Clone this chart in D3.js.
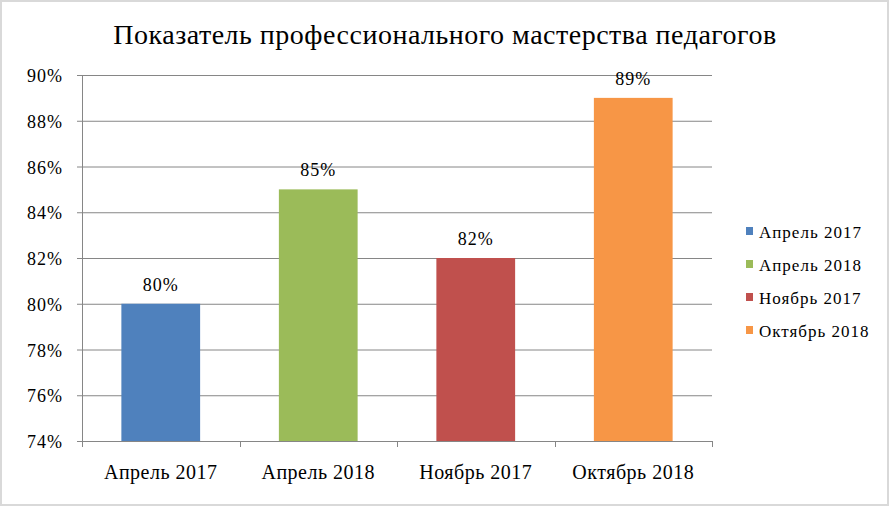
<!DOCTYPE html>
<html><head><meta charset="utf-8">
<script src="https://cdn.jsdelivr.net/npm/d3@7"></script>
<style>body{margin:0;background:#fff}svg{display:block}svg text{font-family:"Liberation Serif","Times New Roman",serif !important;fill:#000}</style>
</head><body><svg id="c" width="890" height="507"></svg>
<script>
const categories = ["Апрель 2017","Апрель 2018","Ноябрь 2017","Октябрь 2018"];
const values = [80, 85, 82, 89];
const colors = ["#4f81bd","#9bbb59","#c0504d","#f79646"];
const yTicks = [74,76,78,80,82,84,86,88,90];
const title = "Показатель профессионального мастерства педагогов";

const svg = d3.select("#c");
svg.append("rect").attr("x",1).attr("y",1).attr("width",887).attr("height",504)
  .attr("fill","#fff").attr("stroke","#d9d9d9").attr("stroke-width",2);

const L=82,R=712,T=75,B=441;
const x = d3.scaleBand().domain(categories).range([L,R]).paddingInner(0.5).paddingOuter(0.25);
const y = d3.scaleLinear().domain([74,90]).range([B,T]);
const step = x.step();

svg.append("text").attr("x",445).attr("y",44).attr("text-anchor","middle")
  .style("font-size","28px").style("letter-spacing","0.5px").text(title);

// gridlines
svg.append("g").selectAll("line").data(yTicks).join("line")
  .attr("x1",L-5).attr("x2",R).attr("y1",d=>y(d)+0.5).attr("y2",d=>y(d)+0.5)
  .attr("stroke","#868686").attr("stroke-width",1);

// y axis line
svg.append("line").attr("x1",L+0.5).attr("x2",L+0.5).attr("y1",T).attr("y2",B+1).attr("stroke","#868686");

svg.append("g").selectAll("text").data(yTicks).join("text")
  .attr("x",L-19).attr("y",d=>y(d)+7).attr("text-anchor","end")
  .style("font-size","18px").style("letter-spacing","1px").text(d=>d+"%");

// category boundary ticks
const bounds = d3.range(categories.length+1).map(i=>L+i*step);
svg.append("g").selectAll("line").data(bounds).join("line")
  .attr("x1",d=>Math.round(d)+0.5).attr("x2",d=>Math.round(d)+0.5).attr("y1",B).attr("y2",B+6)
  .attr("stroke","#868686");

svg.append("g").selectAll("rect").data(values).join("rect")
  .attr("x",(d,i)=>x(categories[i])).attr("width",x.bandwidth())
  .attr("y",d=>y(d)).attr("height",d=>B-y(d)).attr("fill",(d,i)=>colors[i]);

svg.append("g").selectAll("text").data(values).join("text")
  .attr("x",(d,i)=>x(categories[i])+x.bandwidth()/2).attr("y",d=>y(d)-13)
  .attr("text-anchor","middle").style("font-size","18px").style("letter-spacing","1px").text(d=>d+"%");

svg.append("g").selectAll("text").data(categories).join("text")
  .attr("x",d=>x(d)+x.bandwidth()/2).attr("y",479)
  .attr("text-anchor","middle").style("font-size","20px").style("letter-spacing","0.5px").text(d=>d);

const lg = svg.append("g").selectAll("g").data(categories).join("g")
  .attr("transform",(d,i)=>`translate(746,${238+i*33})`);
lg.append("rect").attr("x",0).attr("y",-11).attr("width",7).attr("height",8).attr("fill",(d,i)=>colors[i]);
lg.append("text").attr("x",13).attr("y",0).style("font-size","17px").style("letter-spacing","1px").text(d=>d);
</script></body></html>
